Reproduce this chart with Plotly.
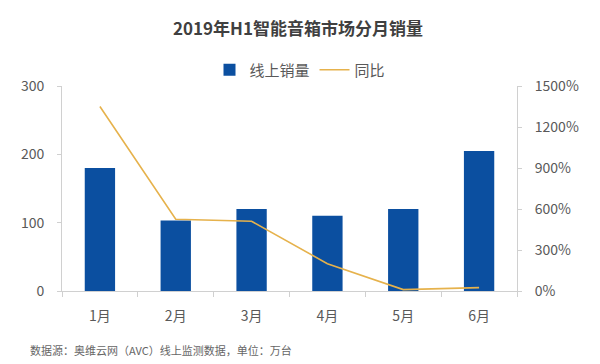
import plotly.graph_objects as go

months = ["1月", "2月", "3月", "4月", "5月", "6月"]
online_sales = [180, 103, 120, 110, 120, 205]
yoy_pct = [1350, 525, 510, 200, 10, 25]
left_ticks = [0, 100, 200, 300]
right_ticks = [0, 300, 600, 900, 1200, 1500]
right_tick_labels = [f"{v}%" for v in right_ticks]

FONT = "Noto Sans CJK SC, Noto Sans, sans-serif"
BAR_COLOR = "#0b4fa0"
LINE_COLOR = "#e6b24c"
AXIS_COLOR = "#d0d0d0"
TEXT_COLOR = "#595959"

fig = go.Figure()
fig.add_trace(go.Bar(
    x=months, y=online_sales, name="线上销量",
    marker=dict(color=BAR_COLOR, line=dict(width=0)),
    yaxis="y",
))
fig.add_trace(go.Scatter(
    x=months, y=yoy_pct, name="同比", mode="lines",
    line=dict(color=LINE_COLOR, width=1.6),
    yaxis="y2",
))

fig.update_layout(
    width=600, height=364,
    margin=dict(l=62, r=83, t=86, b=73, autoexpand=False),
    paper_bgcolor="white", plot_bgcolor="white",
    font=dict(family=FONT, color=TEXT_COLOR, size=13),
    bargap=0.6,
    title=dict(
        text="<b>2019年H1智能音箱市场分月销量</b>",
        x=298 / 600, xref="container", xanchor="center",
        y=1 - 29 / 364, yref="container", yanchor="middle",
        font=dict(size=17, color="#404040", family=FONT),
    ),
    legend=dict(
        orientation="h", xref="container", yref="container",
        x=0.5, xanchor="center", y=1 - 70 / 364, yanchor="middle",
        font=dict(size=15, color=TEXT_COLOR), itemwidth=30,
        bgcolor="rgba(0,0,0,0)", traceorder="normal",
    ),
    xaxis=dict(
        showgrid=False, showline=True, linecolor=AXIS_COLOR, linewidth=1,
        ticks="outside", ticklen=5, tickcolor=AXIS_COLOR,
        tickson="boundaries",
        tickfont=dict(size=14, color=TEXT_COLOR),
        ticklabelstandoff=12,
    ),
    yaxis=dict(
        range=[0, 300], tickvals=left_ticks,
        showgrid=False, showline=True, linecolor=AXIS_COLOR, linewidth=1,
        ticks="outside", ticklen=4, tickcolor=AXIS_COLOR,
        tickfont=dict(size=14, color=TEXT_COLOR),
        ticklabelstandoff=10, zeroline=False,
    ),
    yaxis2=dict(
        range=[0, 1500], tickvals=right_ticks, ticktext=right_tick_labels,
        overlaying="y", side="right",
        showgrid=False, showline=True, linecolor=AXIS_COLOR, linewidth=1,
        ticks="outside", ticklen=4, tickcolor=AXIS_COLOR,
        tickfont=dict(size=14, color=TEXT_COLOR),
        ticklabelstandoff=10, zeroline=False,
    ),
    annotations=[dict(
        text="数据源：奥维云网（AVC）线上监测数据，单位：万台",
        xref="paper", yref="paper", x=-34 / 455, y=-(350 - 291) / 205,
        xanchor="left", yanchor="middle", showarrow=False,
        font=dict(size=11, color="#666666", family=FONT),
    )],
)

fig.write_html(
    "out.html",
    config={"displayModeBar": False},
    post_script="document.body.style.margin='0';document.body.style.overflow='hidden';",
)
